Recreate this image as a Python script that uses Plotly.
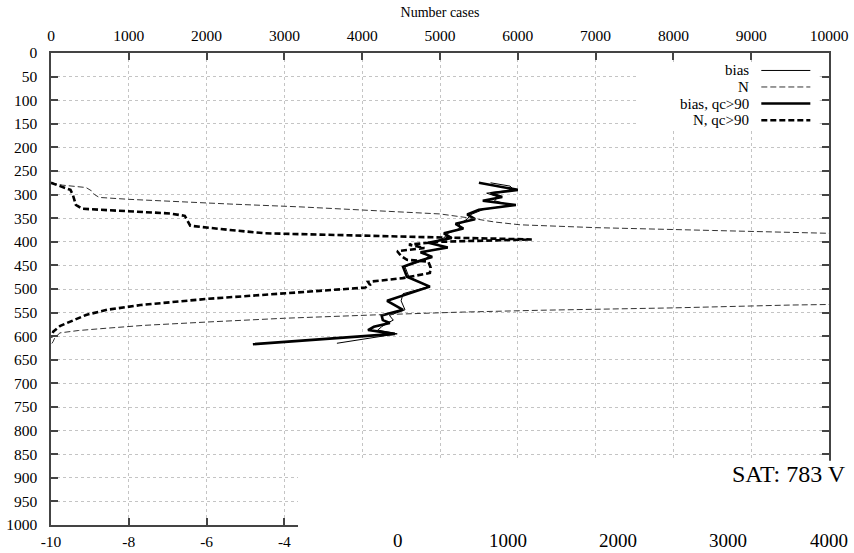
import plotly.graph_objects as go

# ---------------- data ----------------
# bias (all data) vs pressure
p_bias = [275, 282, 290, 297, 305, 313, 322, 332, 342, 352, 362, 372, 382, 392, 402, 412,
          422, 432, 442, 453, 474, 495, 510, 525, 544, 556, 566, 572, 580, 587, 595, 615]
bias = [1.3, 1.8, 1.9, 1.2, 1.5, 1.4, 1.8, 1.1, 0.8, 0.7, 0.5, 0.5, 0.2, 0.1, -0.2, 0.1,
        -0.4, -0.3, -0.5, -0.9, -0.8, -0.3, -0.95, -1.0, -0.9, -1.3, -1.2, -1.35, -1.5, -1.6, -1.1, -2.65]

# bias, qc>90
p_bias_qc = [275, 282, 290, 297, 305, 313, 322, 332, 342, 352, 362, 372, 382, 392, 402, 412,
             422, 432, 442, 453, 474, 495, 510, 525, 544, 556, 566, 572, 580, 587, 595, 617]
bias_qc = [1.0, 1.5, 2.0, 1.3, 1.6, 1.1, 1.95, 1.0, 0.7, 0.9, 0.4, 0.6, 0.1, 0.3, -0.3, 0.2,
           -0.5, -0.2, -0.6, -0.95, -0.85, -0.26, -0.8, -1.36, -0.95, -1.5, -1.47, -1.29, -1.7, -1.85, -1.16, -4.81]

# number of cases (all data)
p_n = [275, 280, 285, 292, 300, 306, 310, 315, 320, 326, 333, 341, 350, 358, 364, 370, 376, 381,
       390, 400, 450, 500, 520, 528, 534, 540, 545, 549, 555, 562, 570, 577, 583, 588, 593, 603, 612, 618]
n_all = [0, 150, 450, 520, 560, 620, 1000, 1600, 2300, 3200, 4100, 5000, 5400, 5700, 6030, 7000, 8500, 10000,
         12500, 14500, 17000, 16000, 14000, 12000, 9500, 8000, 6300, 5260, 4140, 3000, 2000, 1200, 720, 350, 115, 50, 25, 0]

# number of cases, qc>90
p_n_qc = [275, 282, 290, 300, 310, 322, 330, 335, 340, 345, 355, 366, 375, 382, 390, 395, 400, 406,
          413, 420, 430, 438, 442, 455, 466, 477, 485, 491, 497, 509, 521, 534, 544, 555, 566, 578, 590, 603]
n_qc = [0, 120, 250, 280, 300, 320, 400, 900, 1530, 1720, 1750, 1790, 2300, 2750, 4800, 6180, 5000, 4600,
        4800, 4450, 4500, 4575, 4850, 4880, 4870, 4520, 4075, 4100, 4040, 3000, 2000, 1150, 720, 450, 280, 120, 30, 0]

legend_names = ["bias", "N", "bias, qc>90", "N, qc>90"]
bias_ticks = list(range(-10, 11, 2))
bias_ticktext = ["-10", "-8", "-6", "-4", "", "", "", "", "", "", ""]  # rest hidden under neighbour panel
n_ticks = list(range(0, 10001, 1000))
n_ticktext = [str(v) for v in n_ticks]
p_ticks = list(range(0, 1001, 50))
p_ticktext = [str(v) for v in p_ticks]
other_panel_ticks = ["0", "1000", "2000", "3000", "4000"]
sat_label = "SAT: 783 V"

# ---------------- figure ----------------
FONT = "Liberation Serif"
AX = "#444444"
GRID = "#c4c4c4"

styles = [
    dict(color="black", width=1),
    dict(color="#333333", width=1, dash="6px,3px"),
    dict(color="black", width=2.6),
    dict(color="black", width=2.6, dash="6px,3px"),
]

fig = go.Figure()
fig.add_trace(go.Scatter(x=bias, y=p_bias, mode="lines", line=styles[0], name=legend_names[0],
                         xaxis="x", yaxis="y"))
fig.add_trace(go.Scatter(x=n_all, y=p_n, mode="lines", line=styles[1], name=legend_names[1],
                         xaxis="x2", yaxis="y"))
fig.add_trace(go.Scatter(x=bias_qc, y=p_bias_qc, mode="lines", line=styles[2], name=legend_names[2],
                         xaxis="x", yaxis="y"))
fig.add_trace(go.Scatter(x=n_qc, y=p_n_qc, mode="lines", line=styles[3], name=legend_names[3],
                         xaxis="x2", yaxis="y"))

axis_common = dict(showline=True, linecolor=AX, linewidth=1.5, ticks="inside", ticklen=7,
                   tickwidth=1.5, tickcolor=AX, zeroline=False, automargin=False,
                   tickfont=dict(family=FONT, size=15.5, color="black"))

fig.update_layout(
    width=854, height=553,
    margin=dict(l=51, r=25, t=53, b=28, pad=0, autoexpand=False),
    paper_bgcolor="white", plot_bgcolor="white",
    showlegend=False,
    font=dict(family=FONT, color="black"),
    xaxis=dict(range=[-10, 10], tickvals=bias_ticks, ticktext=bias_ticktext, showgrid=True,
               gridcolor=GRID, griddash="dot", gridwidth=1, ticklabelstandoff=2, **axis_common),
    xaxis2=dict(range=[0, 10000], tickvals=n_ticks, ticktext=n_ticktext, overlaying="x", side="top",
                anchor="y", showgrid=False, ticklabelstandoff=4,
                title=dict(text="Number cases", font=dict(family=FONT, size=14), standoff=6),
                **axis_common),
    yaxis=dict(range=[1000, 0], tickvals=p_ticks, ticktext=p_ticktext, showgrid=True, gridcolor=GRID,
               griddash="dot", gridwidth=1, mirror="ticks", ticklabelstandoff=9, **axis_common),
)

# legend box (covers gridlines) and custom legend entries (text left, sample right)
fig.add_shape(type="rect", xref="x2", yref="y", x0=7530, x1=9880, y0=19, y1=163,
              fillcolor="white", line=dict(width=0), layer="above")
leg_p = [37, 72, 107, 142.4]
for name, st, pp in zip(legend_names, styles, leg_p):
    fig.add_annotation(x=9000, y=pp, xref="x2", yref="y", text=name, showarrow=False,
                       xanchor="right", yanchor="middle", font=dict(family=FONT, size=15))
    fig.add_shape(type="line", xref="x2", yref="y", x0=9130, x1=9760, y0=pp, y1=pp,
                  line=st, layer="above")

# white block covering the lower right corner (overlapping neighbour panel)
fig.add_shape(type="rect", xref="paper", yref="paper", x0=0.3175, x1=1.2, y0=0.136, y1=-0.2,
              fillcolor="white", line=dict(width=0), layer="above")

# neighbour panel fragments (kept fully inside the picture)
other_x = [398, 508, 618, 728, 829]
for t, px in zip(other_panel_ticks, other_x):
    fig.add_annotation(x=(px - 51) / 778, y=(525 - 553) / 472, xref="paper", yref="paper", text=t,
                       showarrow=False, xanchor="center", yanchor="bottom",
                       font=dict(family=FONT, size=19))
fig.add_annotation(x=(730 - 51) / 778, y=(525 - 474) / 472, xref="paper", yref="paper", text=sat_label,
                   showarrow=False, xanchor="left", yanchor="middle",
                   font=dict(family=FONT, size=24))

fig.write_html("out.html")
